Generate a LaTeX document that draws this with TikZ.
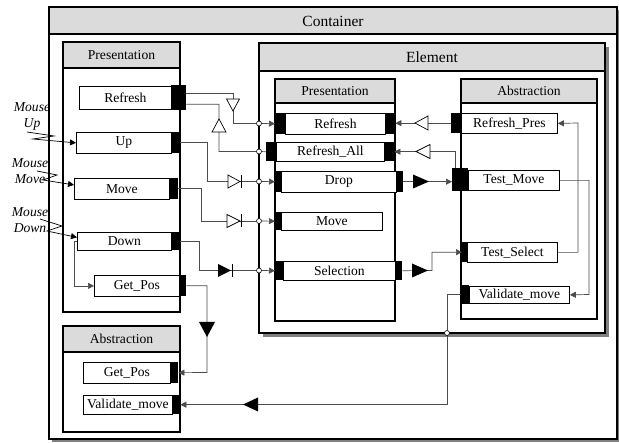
\documentclass[tikz,border=0pt]{standalone}
\usepackage{fontspec}
\setmainfont{Liberation Serif}
\usetikzlibrary{arrows.meta}

\definecolor{headgray}{gray}{0.86}
\definecolor{shadegray}{gray}{0.5}
\definecolor{wiregray}{gray}{0.3}
\newcommand\itemfont{\fontsize{13.6}{16}\selectfont}
\newcommand\titlefont{\fontsize{15.5}{18}\selectfont}

\begin{document}
\begin{tikzpicture}[x=1pt,y=-1pt,
  panel/.style={draw,fill=white,line width=1.4pt},
  head/.style={draw,fill=headgray,line width=1.4pt},
  item/.style={draw,fill=white,line width=0.8pt,inner sep=0pt,anchor=north west,font=\itemfont},
  port/.style={fill=black,inner sep=0pt,anchor=north west},
  wire/.style={draw=wiregray,line width=0.7pt},
  bolt/.style={draw=black,line width=0.7pt},
  tip/.style={-{Triangle[length=6pt,width=6pt]}},
  dot/.style={circle,draw=black,fill=white,line width=0.6pt,inner sep=0pt,minimum size=5pt},
  gate/.style={draw=black,fill=white,line width=0.7pt},
  event/.style={font=\itemfont\itshape,align=center,inner sep=0pt}]
  \useasboundingbox (0,0) rectangle (619,443);

  \fill[shadegray] (52,10) rectangle (620,442);
  \draw[fill=white,line width=1.2pt] (49,7) rectangle (617,439);
  \draw[fill=headgray,line width=1.2pt] (49,7) rectangle (617,34);
  \node[font=\titlefont] (container) at (333,21) {Container};

  \fill[shadegray] (263,47) rectangle (609,337);
  \draw[panel] (259,43) rectangle (605,333);
  \draw[head] (259,43) rectangle (605,71);
  \node[font=\titlefont] (element) at (432,57) {Element};

  \draw[panel] (63,42) rectangle (180,312);
  \draw[head] (63,42) rectangle (180,68);
  \node[font=\itemfont] at (121.5,55) {Presentation};
  \draw[panel] (63,326) rectangle (180,432);
  \draw[head] (63,326) rectangle (180,352);
  \node[font=\itemfont] at (121.5,339) {Abstraction};
  \draw[panel] (275,79) rectangle (395,321);
  \draw[head] (275,79) rectangle (395,103);
  \node[font=\itemfont] at (335,91) {Presentation};
  \draw[panel] (461,79) rectangle (597,319);
  \draw[head] (461,79) rectangle (597,103);
  \node[font=\itemfont] at (529,91) {Abstraction};

  \node[item,minimum width=92,minimum height=23] (lRefresh) at (79,86) {Refresh};
  \node[port,minimum width=15,minimum height=25] (lRefreshP) at (171,85) {};
  \node[item,minimum width=95,minimum height=21] (lUp) at (76,132) {Up};
  \node[port,minimum width=9,minimum height=21] (lUpP) at (171,132) {};
  \node[item,minimum width=95,minimum height=21] (lMove) at (74,178) {Move};
  \node[port,minimum width=9,minimum height=21] (lMoveP) at (169,178) {};
  \node[item,minimum width=94,minimum height=18] (lDown) at (77,232) {Down};
  \node[port,minimum width=9,minimum height=18] (lDownP) at (171,232) {};
  \node[item,minimum width=85,minimum height=21] (lGetPos) at (94,275) {Get\_Pos};
  \node[port,minimum width=7,minimum height=21] (lGetPosP) at (179,275) {};

  \node[item,minimum width=87,minimum height=21] (aGetPos) at (83,362) {Get\_Pos};
  \node[port,minimum width=8,minimum height=21] (aGetPosP) at (170,362) {};
  \node[item,minimum width=89,minimum height=19] (aValidate) at (83,395) {Validate\_move};
  \node[port,minimum width=8,minimum height=19] (aValidateP) at (172,395) {};

  \node[item,minimum width=100,minimum height=21] (eRefresh) at (285,113) {Refresh};
  \node[port,minimum width=10,minimum height=21] (eRefreshL) at (275,113) {};
  \node[port,minimum width=10,minimum height=21] (eRefreshR) at (385,113) {};
  \node[item,minimum width=108,minimum height=19] (eRefreshAll) at (276,142) {Refresh\_All};
  \node[port,minimum width=10,minimum height=19] (eRefreshAllL) at (266,142) {};
  \node[port,minimum width=10,minimum height=19] (eRefreshAllR) at (384,142) {};
  \node[item,minimum width=115,minimum height=21] (eDrop) at (281,171) {Drop};
  \node[port,minimum width=6,minimum height=21] (eDropL) at (275,171) {};
  \node[port,minimum width=7,minimum height=21] (eDropR) at (396,171) {};
  \node[item,minimum width=101,minimum height=18] (eMove) at (281,212) {Move};
  \node[port,minimum width=6,minimum height=18] (eMoveL) at (275,212) {};
  \node[item,minimum width=112,minimum height=19] (eSelection) at (283,261) {Selection};
  \node[port,minimum width=8,minimum height=19] (eSelectionL) at (275,261) {};
  \node[port,minimum width=7,minimum height=19] (eSelectionR) at (395,261) {};

  \node[item,minimum width=96,minimum height=20] (bRefreshPres) at (461,113) {Refresh\_Pres};
  \node[port,minimum width=10,minimum height=20] (bRefreshPresP) at (451,113) {};
  \node[item,minimum width=91,minimum height=20] (bTestMove) at (468,170) {Test\_Move};
  \node[port,minimum width=16,minimum height=23] (bTestMoveP) at (452,168) {};
  \node[item,minimum width=90,minimum height=20] (bTestSelect) at (467,242) {Test\_Select};
  \node[port,minimum width=5,minimum height=20] (bTestSelectP) at (462,242) {};
  \node[item,minimum width=100,minimum height=17] (bValidate) at (469,286) {Validate\_move};
  \node[port,minimum width=8,minimum height=19] (bValidateP) at (461,285) {};

  \node[dot] (d1) at (259,123.5) {};
  \node[dot] (d2) at (259,151.5) {};
  \node[dot] (d3) at (259,181.5) {};
  \node[dot] (d4) at (259,221) {};
  \node[dot] (d5) at (259,270.5) {};
  \node[dot] (d6) at (447,333) {};

  \coordinate (k1) at (233,123.5);
  \coordinate (k2) at (219,151.5);
  \coordinate (k3) at (207,181.5);
  \coordinate (k4) at (201,221);
  \coordinate (k5) at (199,270.5);
  \coordinate (k7) at (207,372.5);
  \coordinate (k11) at (432,270.5);
  \coordinate (k12) at (589,294.5);
  \coordinate (k13) at (578,123);

  \draw[wire] ([yshift=4.5pt]lRefreshP.east) -| (k1) -- (d1);
  \draw[wire,tip] (d1) -- (eRefreshL.west);
  \draw[wire] ([yshift=-6.5pt]lRefreshP.east) -| (k2) -- (d2) -- (eRefreshAllL.west);
  \draw[wire] (lUpP.east) -| (k3) -- (d3);
  \draw[wire,tip] (d3) -- (eDropL.west);
  \draw[wire] (lMoveP.east) -| (k4) -- (d4);
  \draw[wire,tip] (d4) -- (eMoveL.west);
  \draw[wire] (lDownP.east) -| (k5) -- (d5);
  \draw[wire,tip] (d5) -- (eSelectionL.west);
  \draw[wire,tip] (lDown.west) -- ++(-3,0) |- (lGetPos.west);
  \draw[wire,tip] (lGetPosP.east) -| (k7) -- (aGetPosP.east);

  \draw[wire,tip] (bRefreshPresP.west) -- (bRefreshPresP.west -| eRefreshR.east);
  \draw[wire,tip] ([xshift=-5pt]bTestMoveP.north) |- (eRefreshAllR.east);
  \draw[wire,tip] (eDropR.east) -- (eDropR.east -| bTestMoveP.west);
  \draw[wire,tip] (eSelectionR.east) -- (k11) |- (bTestSelectP.west);
  \draw[wire,tip] (bTestMove.east) -| (k12) -- (bValidate.east);
  \draw[wire,tip] (bTestSelect.east) -| (k13) -- (bRefreshPres.east);
  \draw[wire] (bValidateP.west) -| (d6);
  \draw[wire,tip] (d6) |- (aValidateP.east);

  \draw[gate] (226.5,99) -- (239.5,99) -- (233,111) -- cycle;
  \draw[gate] (212,132) -- (226,132) -- (219,119) -- cycle;
  \draw[gate] (228,175) -- (228,188) -- (240,181.5) -- cycle;
  \draw[line width=0.8pt] (241,175) -- (241,188);
  \draw[gate] (227,214.5) -- (227,227.5) -- (240,221) -- cycle;
  \draw[line width=0.8pt] (241,214.5) -- (241,227.5);
  \fill (218,264) -- (218,277) -- (231,270.5) -- cycle;
  \draw[line width=0.8pt] (232,264) -- (232,277);
  \fill (199,322) -- (215,322) -- (207,337) -- cycle;
  \draw[gate] (415,123) -- (428,116) -- (428,130) -- cycle;
  \draw[gate] (416,151.5) -- (430,144.5) -- (430,158.5) -- cycle;
  \fill (413,174.5) -- (429,181.5) -- (413,188.5) -- cycle;
  \fill (412,263.5) -- (428,270.5) -- (412,277.5) -- cycle;
  \fill (243,404.5) -- (258,397.5) -- (258,411.5) -- cycle;

  \node[event] (mUp) at (32,116) {Mouse\\Up};
  \node[event] (mMove) at (30,171) {Mouse\\Move};
  \node[event] (mDown) at (30,220.5) {Mouse\\Down};
  \coordinate (zUp) at (27,132);
  \coordinate (zMove) at (37,171);
  \coordinate (zDown) at (40,219);
  \draw[bolt,tip] (zUp) -- ++(27,4) -- ++(-21,3) -- (lUp.west);
  \draw[bolt,tip] (zMove) -- ++(20,4) -- ++(-14,5) -- ([yshift=4pt]lMove.west);
  \draw[bolt,tip] (zDown) -- ++(22,7) -- ++(-15,5) -- ([yshift=4pt]lDown.west);
\end{tikzpicture}
\end{document}
